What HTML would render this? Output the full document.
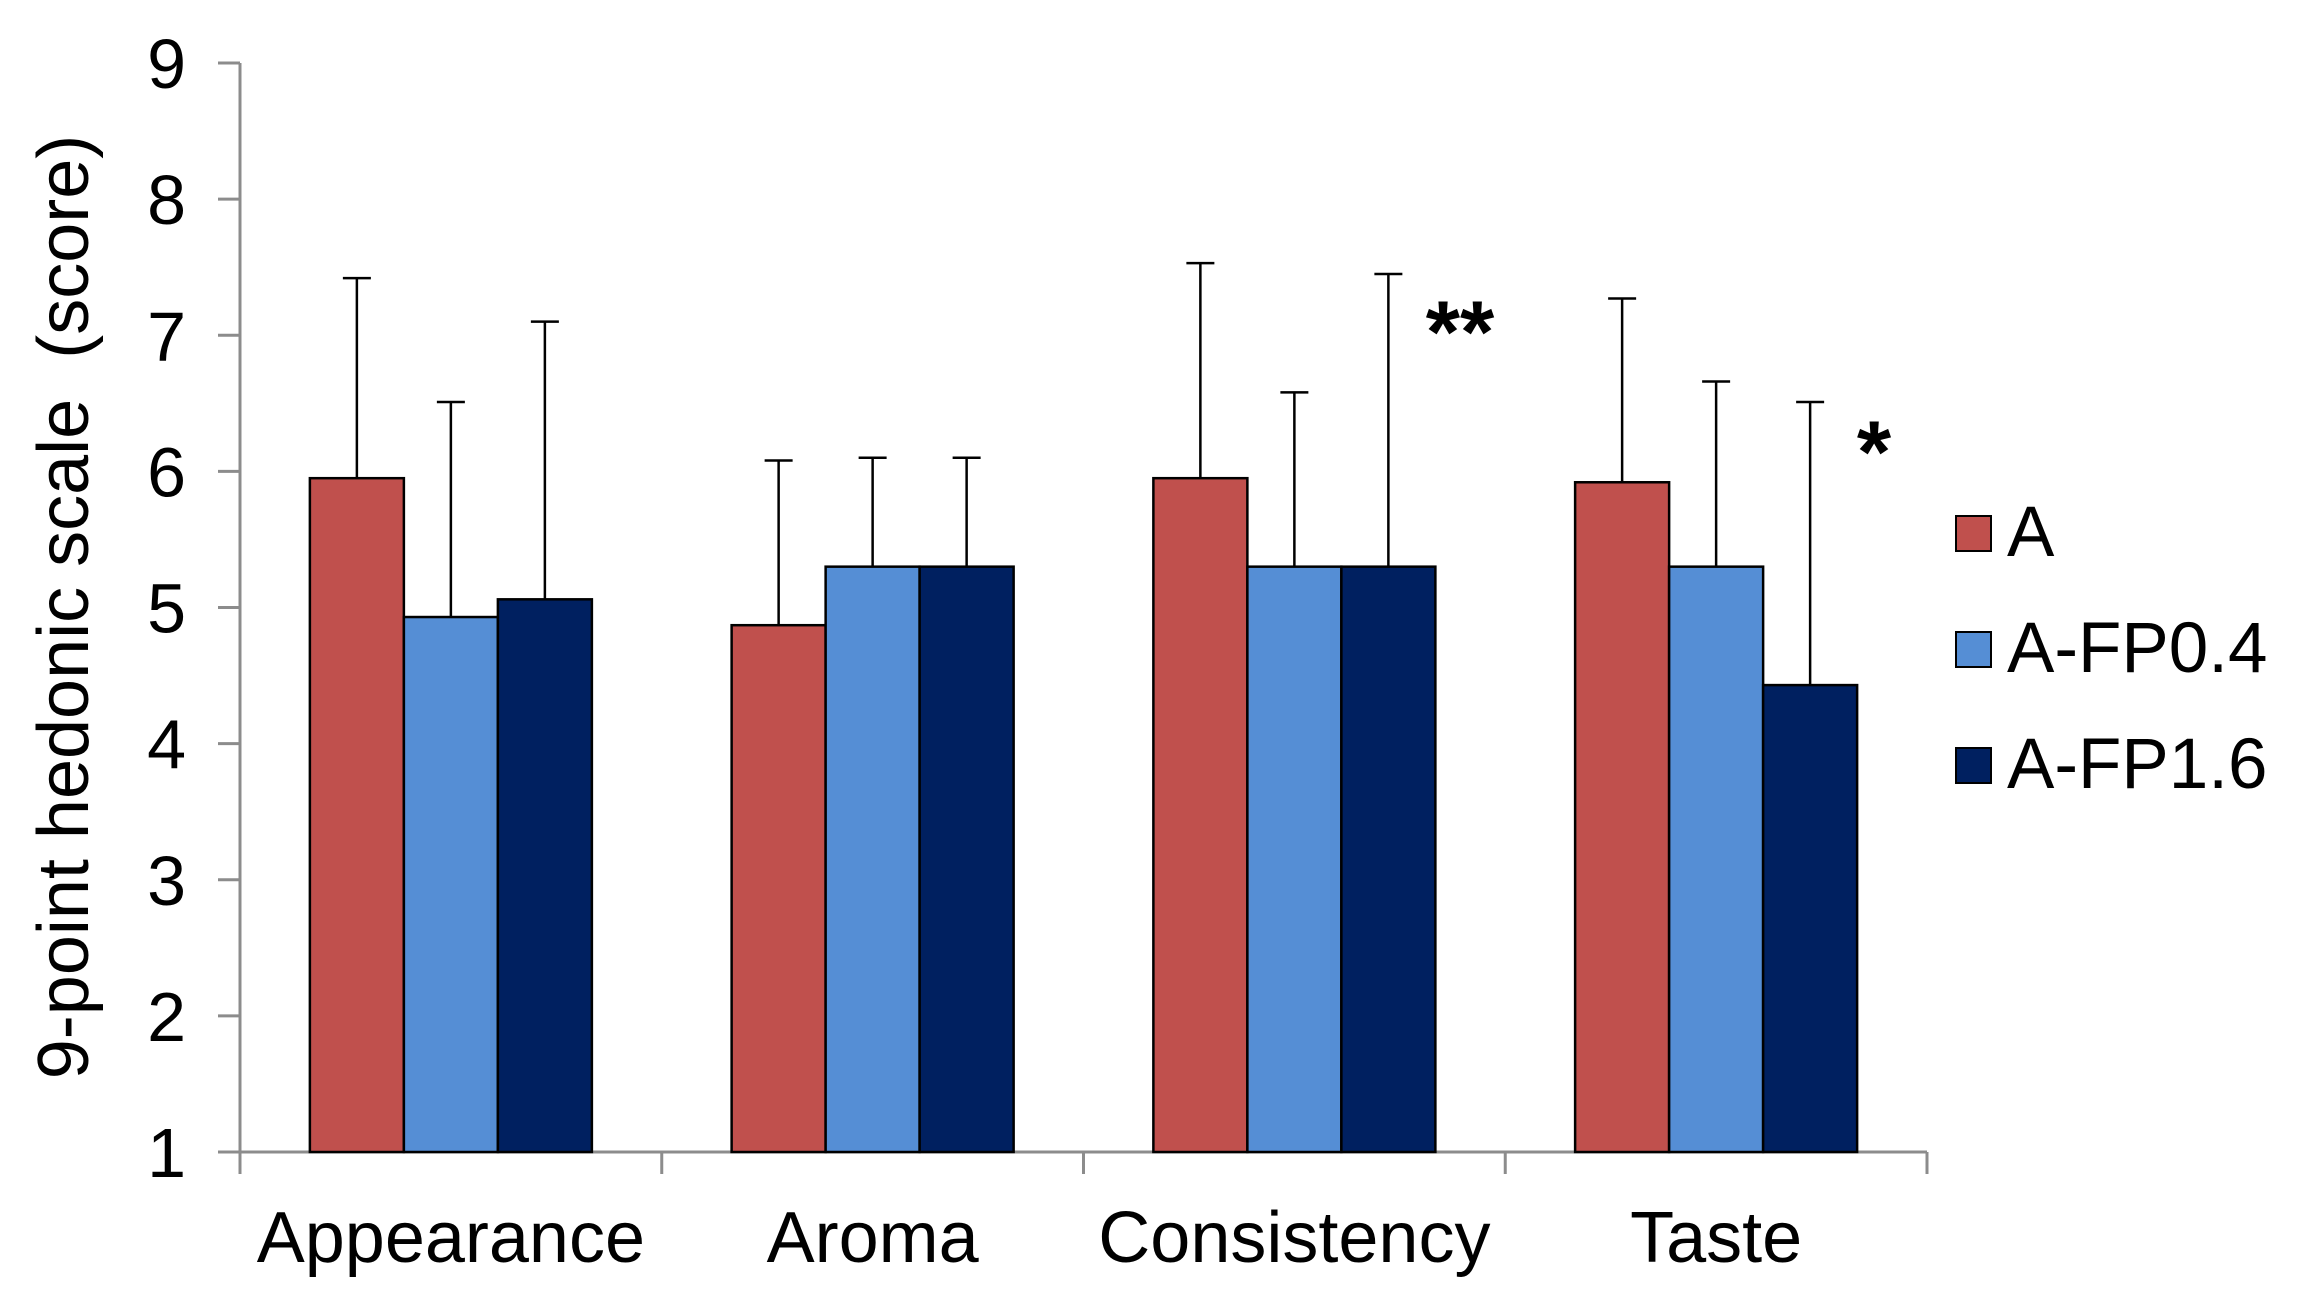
<!DOCTYPE html>
<html><head><meta charset="utf-8"><style>
html,body{margin:0;padding:0;background:#fff}
svg{display:block;font-family:"Liberation Sans",Arial,sans-serif}
</style></head><body>
<svg id="chart" width="2298" height="1306" viewBox="0 0 2298 1306">
<g id="axes"></g>
<g id="bars"></g>
<text transform="translate(88,607) rotate(-90)" text-anchor="middle" font-size="72" fill="#000">9-point hedonic scale&#160; (score)</text>
<text x="1460" y="362" text-anchor="middle" font-size="88" font-weight="bold">**</text>
<text x="1874" y="482" text-anchor="middle" font-size="88" font-weight="bold">*</text>
<g>
<rect x="1956" y="516" width="35" height="35" fill="#c0504d" stroke="#000" stroke-width="2"/>
<text x="2007" y="556" font-size="71">A</text>
<rect x="1956" y="632" width="35" height="35" fill="#558ed5" stroke="#000" stroke-width="2"/>
<text x="2007" y="672" font-size="71">A-FP0.4</text>
<rect x="1956" y="748" width="35" height="35" fill="#002060" stroke="#000" stroke-width="2"/>
<text x="2007" y="788" font-size="71">A-FP1.6</text>
</g>
</svg>
<script>
const categories = ["Appearance","Aroma","Consistency","Taste"];
const seriesNames = ["A","A-FP0.4","A-FP1.6"];
const valuesA = [5.95,4.87,5.95,5.92];
const valuesFP04 = [4.93,5.30,5.30,5.30];
const valuesFP16 = [5.06,5.30,5.30,4.43];
const errTopA = [7.42,6.08,7.53,7.27];
const errTopFP04 = [6.51,6.10,6.58,6.66];
const errTopFP16 = [7.10,6.10,7.45,6.51];
const yTicks = [1,2,3,4,5,6,7,8,9];

const NS="http://www.w3.org/2000/svg";
const L=240,R=1927,T=63,B=1152,yMin=1,yMax=9;
const colors=["#c0504d","#558ed5","#002060"];
const y=v=>B-(v-yMin)/(yMax-yMin)*(B-T);
const catW=(R-L)/categories.length;
const x=i=>L+catW*(i+0.5);
const barW=94;
function mk(tag,attrs,parent){const e=document.createElementNS(NS,tag);for(const k in attrs)e.setAttribute(k,attrs[k]);parent.appendChild(e);return e;}
const axes=document.getElementById('axes'), bars=document.getElementById('bars');
let e;
e=mk('line',{x1:L,y1:T,x2:L,y2:B,stroke:'#8c8c8c','stroke-width':3},axes);


e=mk('line',{x1:L,y1:B,x2:R,y2:B,stroke:'#8c8c8c','stroke-width':3},axes);


yTicks.forEach(t=>{
  e=mk('line',{x1:L-22,y1:y(t),x2:L,y2:y(t),stroke:'#8c8c8c','stroke-width':3},axes);
  
  
  e=mk('text',{x:186,y:y(t)+25,'text-anchor':'end','font-size':70,fill:'#000'},axes);
  e.textContent=t;
  
  
});
for(let i=0;i<=categories.length;i++){
  e=mk('line',{x1:L+catW*i,y1:B,x2:L+catW*i,y2:B+22,stroke:'#8c8c8c','stroke-width':3},axes);
  
  
}
categories.forEach((c,i)=>{
  e=mk('text',{x:x(i),y:1262,'text-anchor':'middle','font-size':72,fill:'#000'},axes);
  e.textContent=c;
  
  
});
const vals=[valuesA,valuesFP04,valuesFP16], errs=[errTopA,errTopFP04,errTopFP16];
categories.forEach((c,i)=>{
  vals.forEach((s,j)=>{
    const bx=x(i)-1.5*barW+j*barW, cx=bx+barW/2;
    e=mk('line',{x1:cx,y1:y(errs[j][i]),x2:cx,y2:y(s[i]),stroke:'#000','stroke-width':2.5},bars);
    
    
    e=mk('line',{x1:cx-14,y1:y(errs[j][i]),x2:cx+14,y2:y(errs[j][i]),stroke:'#000','stroke-width':2.5},bars);
    
    
    e=mk('rect',{x:bx,y:y(s[i]),width:barW,height:B-y(s[i]),fill:colors[j],stroke:'#000','stroke-width':2.5},bars);
    
    
  });
});
</script>
</body></html>
